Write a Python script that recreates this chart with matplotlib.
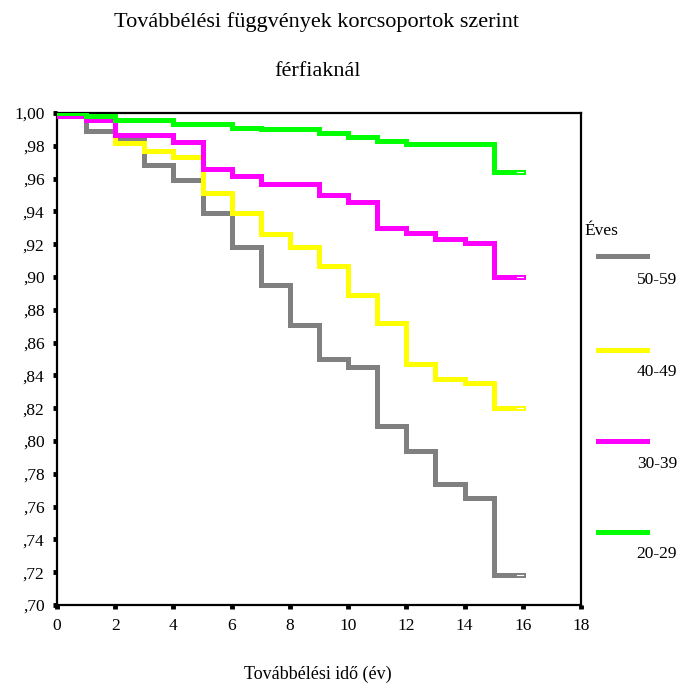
import matplotlib
matplotlib.use("Agg")
import matplotlib.pyplot as plt
import numpy as np

plt.rcParams['font.family'] = ['Liberation Serif', 'DejaVu Serif']

# Step boundaries (years) and survival values per interval
years = [0, 1, 2, 3, 4, 5, 6, 7, 8, 9, 10, 11, 12, 13, 14, 15, 16]
s_50_59 = [0.998, 0.989, 0.984, 0.968, 0.959, 0.939, 0.918, 0.895, 0.871, 0.850, 0.845, 0.809, 0.794, 0.774, 0.765, 0.718]
s_40_49 = [0.998, 0.996, 0.9815, 0.977, 0.973, 0.951, 0.939, 0.926, 0.918, 0.907, 0.889, 0.872, 0.847, 0.838, 0.8355, 0.820]
s_30_39 = [0.998, 0.996, 0.9866, 0.9866, 0.9825, 0.966, 0.9616, 0.957, 0.957, 0.950, 0.9455, 0.9297, 0.927, 0.923, 0.9205, 0.900]
s_20_29 = [1.000, 0.998, 0.9957, 0.9957, 0.9933, 0.9933, 0.991, 0.990, 0.990, 0.9876, 0.9856, 0.983, 0.981, 0.981, 0.981, 0.9638]

labels = ['50-59', '40-49', '30-39', '20-29']
series = [s_50_59, s_40_49, s_30_39, s_20_29]
colors = ['#808080', '#ffff00', '#ff00ff', '#00ff00']

yticks = [0.70, 0.72, 0.74, 0.76, 0.78, 0.80, 0.82, 0.84, 0.86, 0.88, 0.90, 0.92, 0.94, 0.96, 0.98, 1.00]
ytick_labels = [',70', ',72', ',74', ',76', ',78', ',80', ',82', ',84', ',86', ',88', ',90', ',92', ',94', ',96', ',98', '1,00']
xticks = [0, 2, 4, 6, 8, 10, 12, 14, 16, 18]

W, H = 679, 686
fig = plt.figure(figsize=(W / 100, H / 100), dpi=100)
ax = fig.add_axes([57 / W, 1 - 605 / H, (581 - 57) / W, (605 - 113) / H])

for lab, vals, col in zip(labels, series, colors):
    xs = np.array(years, dtype=float)
    ys = np.array(vals + [vals[-1]])
    ax.step(xs, ys, where='post', color=col, lw=3.6, solid_joinstyle='miter', label=lab, zorder=3)
    # censoring mark at the end of each curve
    ax.plot([years[-1] - 0.2, years[-1]], [vals[-1], vals[-1]], color='white', lw=0.8, zorder=4)

ax.set_xlim(0, 18)
ax.set_ylim(0.70, 1.00)
ax.set_xticks(xticks)
ax.set_xticklabels([str(t) for t in xticks], fontsize=12.5)
ax.set_yticks(yticks)
ax.set_yticklabels(ytick_labels, fontsize=12.5)
ax.tick_params(direction='out', length=3, width=3.5, pad=6, color='black')
for s in ax.spines.values():
    s.set_linewidth(1.6)
    s.set_color('black')

fig.text(316 / W, 1 - 22 / H, 'Továbbélési függvények korcsoportok szerint', ha='center', va='center', fontsize=16)
fig.text(318 / W, 1 - 72 / H, 'férfiaknál', ha='center', va='center', fontsize=16)
fig.text(318 / W, 1 - 674 / H, 'Továbbélési idő (év)', ha='center', va='center', fontsize=13)

# Legend drawn manually in figure coordinates
fig.text(584 / W, 1 - 231 / H, 'Éves', ha='left', va='center', fontsize=12.5)
leg_line_y = [256, 350, 441, 532]
leg_text_y = [280, 372, 464, 554]
for lab, col, ly, ty in zip(labels, colors, leg_line_y, leg_text_y):
    fig.add_artist(plt.Line2D([598 / W, 647 / W], [1 - ly / H, 1 - ly / H], color=col, lw=3.6, transform=fig.transFigure))
    fig.text(677 / W, 1 - ty / H, lab, ha='right', va='center', fontsize=12.5)

fig.savefig('out.png', dpi=100)
